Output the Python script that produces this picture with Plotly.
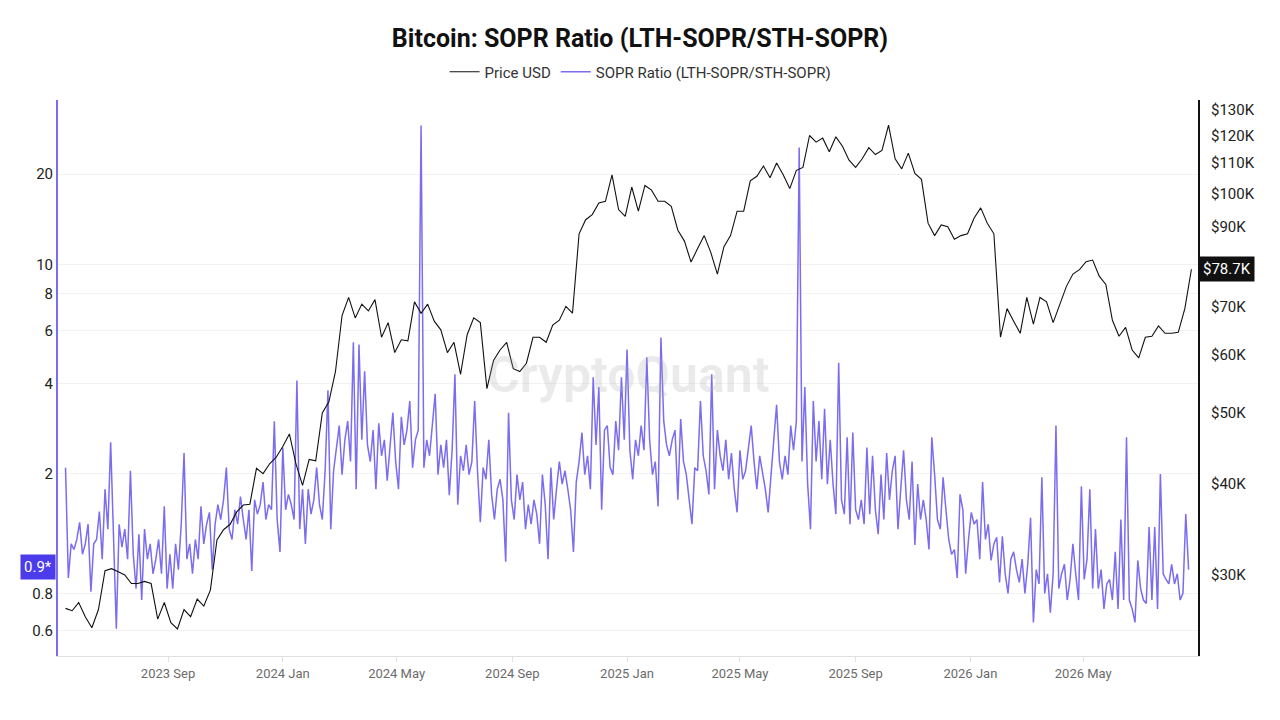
import math
import pandas as pd
import plotly.graph_objects as go

# ---------------- data ----------------
price_start = "2023-05-15"          # weekly samples
price_k = [
    27.0, 26.8, 27.5, 26.3, 25.4, 26.9, 30.4, 30.6, 30.3, 30.0,
    29.2, 29.2, 29.4, 29.2, 26.1, 27.5, 25.8, 25.3, 26.9, 26.3,
    27.8, 27.2, 28.6, 33.5, 34.6, 35.2, 36.6, 37.4, 37.5, 42.0,
    41.3, 42.6, 43.5, 45.0, 46.8, 42.6, 39.8, 43.2, 43.0, 50.0,
    51.8, 57.0, 68.0, 72.0, 67.5, 70.5, 69.0, 71.5, 63.5, 66.5,
    60.5, 63.0, 62.8, 71.0, 68.5, 70.5, 66.8, 65.0, 60.5, 62.5,
    56.5, 64.0, 67.5, 66.5, 54.0, 59.0, 61.0, 62.5, 57.5, 57.0,
    58.5, 63.5, 63.5, 62.5, 66.0, 67.0, 70.0, 68.5, 88.0, 92.0,
    93.5, 97.0, 97.5, 106.0, 95.0, 93.0, 102.0, 94.5, 102.5, 101.0,
    97.5, 97.5, 96.0, 89.0, 86.0, 80.5, 84.0, 87.5, 83.0, 77.5,
    84.5, 87.5, 94.5, 94.5, 104.0, 105.5, 109.0, 105.0, 110.0, 106.0,
    101.5, 107.5, 108.5, 120.0, 117.5, 119.0, 114.0, 119.5, 116.0, 111.0,
    108.5, 111.5, 115.5, 113.0, 114.5, 124.0, 111.5, 108.0, 113.5, 106.5,
    104.5, 91.0, 87.5, 90.5, 90.0, 86.5, 87.5, 88.0, 92.5, 95.5,
    91.0, 88.0, 63.5, 69.5, 66.8, 64.3, 72.0, 66.2, 72.0, 71.0,
    66.5, 70.5, 74.5, 77.5, 78.6, 80.6, 81.0, 77.0, 75.0, 67.0,
    63.7, 65.5, 61.0, 59.5, 63.5, 63.7, 65.8, 64.3, 64.3, 64.5,
    69.5, 78.7,
]

sopr_start = "2023-05-15"           # samples every 3 days
sopr_ratio = [
    2.1, 0.9, 1.17, 1.12, 1.21, 1.38, 1.08, 1.17, 1.36, 0.81,
    1.17, 1.21, 1.5, 1.04, 1.78, 1.31, 2.55, 1.17, 0.61, 1.36,
    1.14, 1.31, 1.04, 2.05, 1.08, 0.83, 1.26, 0.76, 1.31, 1.04,
    1.17, 0.93, 1.04, 1.21, 0.93, 1.56, 0.83, 1.08, 0.83, 1.17,
    0.96, 1.36, 2.35, 1.04, 1.17, 0.93, 1.21, 1.04, 1.56, 1.17,
    1.36, 1.49, 0.96, 1.36, 1.58, 1.41, 1.64, 2.1, 1.31, 1.21,
    1.52, 1.36, 1.68, 1.41, 1.21, 1.52, 0.95, 1.64, 1.47, 1.58,
    1.88, 1.41, 1.58, 1.52, 3.0, 1.41, 1.1, 2.45, 1.52, 1.71,
    1.58, 1.41, 4.1, 1.31, 1.78, 1.17, 1.78, 1.47, 1.64, 2.1,
    1.58, 1.41, 2.05, 3.8, 1.31, 2.05, 2.4, 2.9, 1.99, 2.6,
    3.0, 2.2, 5.5, 1.78, 5.4, 2.6, 4.4, 2.5, 2.2, 2.8,
    1.78, 2.95, 2.3, 2.6, 1.9, 2.4, 3.2, 2.2, 1.78, 3.1,
    2.5, 2.8, 3.5, 2.1, 2.6, 2.8, 29.0, 2.1, 2.6, 2.3,
    3.0, 3.7, 1.99, 2.5, 2.1, 2.6, 1.7, 2.4, 4.3, 1.58,
    2.3, 2.05, 2.5, 1.99, 2.2, 3.5, 2.05, 1.38, 2.1, 1.92,
    2.6, 1.71, 1.41, 1.78, 1.92, 1.64, 1.02, 3.2, 1.64, 1.41,
    1.99, 1.64, 1.88, 1.31, 1.58, 1.36, 1.64, 1.47, 1.17, 1.99,
    1.58, 1.04, 2.1, 1.41, 1.78, 2.2, 1.85, 2.05, 1.78, 1.52,
    1.1, 1.88, 2.2, 2.75, 1.99, 2.3, 1.78, 4.2, 2.5, 3.9,
    1.52, 2.8, 2.9, 2.1, 1.99, 3.0, 2.4, 4.2, 2.6, 5.2,
    2.4, 1.92, 2.6, 2.3, 2.9, 2.4, 4.9, 2.6, 1.99, 2.2,
    1.56, 5.7, 3.0, 2.5, 2.3, 2.6, 2.8, 1.64, 3.05, 2.2,
    1.99, 1.64, 1.36, 2.1, 2.05, 3.5, 2.3, 2.05, 1.71, 4.3,
    1.78, 2.8, 2.3, 2.05, 2.6, 1.92, 2.35, 1.78, 1.49, 2.4,
    1.92, 2.05, 2.5, 2.9, 2.2, 1.78, 2.3, 2.05, 1.78, 1.49,
    2.05, 2.6, 3.4, 2.2, 1.92, 2.3, 1.99, 2.9, 2.4, 3.0,
    24.5, 2.2, 3.9, 1.85, 1.31, 3.5, 2.2, 3.0, 1.92, 3.3,
    1.85, 2.6, 1.85, 1.47, 4.7, 1.64, 1.47, 2.65, 1.36, 2.75,
    1.52, 1.41, 1.64, 1.36, 2.45, 1.47, 2.3, 1.52, 1.26, 1.99,
    1.41, 2.35, 1.64, 2.05, 2.3, 1.31, 1.78, 2.4, 1.64, 1.41,
    2.2, 1.16, 1.85, 1.41, 1.64, 1.41, 1.12, 2.65, 1.99, 1.41,
    1.31, 1.95, 1.52, 1.21, 1.08, 1.12, 0.9, 1.71, 1.52, 0.93,
    1.21, 1.49, 1.36, 1.41, 1.04, 1.88, 1.21, 1.36, 1.03, 1.17,
    1.23, 0.87, 1.24, 0.93, 0.8, 1.04, 1.1, 0.96, 0.87, 1.04,
    0.8, 1.0, 1.43, 0.64, 0.96, 0.86, 1.95, 0.8, 0.93, 0.69,
    0.93, 2.9, 0.83, 0.93, 1.0, 0.76, 0.89, 1.17, 0.93, 0.76,
    1.82, 0.89, 1.04, 1.78, 0.83, 1.31, 0.83, 0.96, 0.71, 0.86,
    0.89, 0.76, 1.1, 0.71, 1.41, 0.76, 2.65, 0.76, 0.71, 0.64,
    1.03, 0.83, 0.76, 0.74, 1.33, 0.76, 1.33, 0.71, 2.0, 0.93,
    0.89, 0.86, 1.0, 0.86, 0.93, 0.76, 0.8, 1.47, 0.96,
]

x_tick_dates = ["2023-09-01", "2024-01-01", "2024-05-01", "2024-09-01", "2025-01-01",
                "2025-05-01", "2025-09-01", "2026-01-01", "2026-05-01"]
x_tick_labels = ["2023 Sep", "2024 Jan", "2024 May", "2024 Sep", "2025 Jan",
                 "2025 May", "2025 Sep", "2026 Jan", "2026 May"]
left_ticks = [0.6, 0.8, 2, 4, 6, 8, 10, 20]
right_ticks_k = [30, 40, 50, 60, 70, 90, 100, 110, 120, 130]

# ---------------- figure ----------------
price_dates = pd.date_range(price_start, periods=len(price_k), freq="7D")
sopr_dates = pd.date_range(sopr_start, periods=len(sopr_ratio), freq="3D")

PURPLE = "#7b6cf0"
FONT = "Roboto"

fig = go.Figure()
fig.add_trace(go.Scatter(
    x=price_dates, y=price_k, name="Price USD", yaxis="y2", mode="lines",
    line=dict(color="#111111", width=1.1), hoverinfo="skip"))
fig.add_trace(go.Scatter(
    x=sopr_dates, y=sopr_ratio, name="SOPR Ratio (LTH-SOPR/STH-SOPR)", yaxis="y",
    mode="lines", line=dict(color=PURPLE, width=1.5), hoverinfo="skip"))

last_sopr = sopr_ratio[-1]
last_price = price_k[-1]

fig.update_layout(
    width=1280, height=720,
    margin=dict(l=58, r=82, t=100, b=64, pad=0, autoexpand=False),
    paper_bgcolor="white", plot_bgcolor="white",
    font=dict(family=FONT, color="#222"),
    title=dict(text="<b>Bitcoin: SOPR Ratio (LTH-SOPR/STH-SOPR)</b>",
               x=0.5, xanchor="center", y=1 - 38 / 720, yanchor="middle",
               yref="container", font=dict(family=FONT, size=25, color="#111")),
    showlegend=True,
    legend=dict(orientation="h", x=0.511, xanchor="center", y=1.0504, yanchor="middle",
                font=dict(family=FONT, size=15, color="#333"), itemwidth=30,
                bgcolor="rgba(0,0,0,0)"),
    xaxis=dict(type="date", range=["2023-05-07", "2026-08-31"],
               tickvals=x_tick_dates, ticktext=x_tick_labels,
               showgrid=False, zeroline=False, showline=True, linecolor="#e0e0e0",
               linewidth=1, ticks="outside", ticklen=5, tickcolor="#e0e0e0",
               tickfont=dict(family=FONT, size=13, color="#6b6b6b")),
    yaxis=dict(type="log", range=[-0.3057, 1.5477],
               tickvals=left_ticks, ticktext=[f"{v:g}" for v in left_ticks],
               showgrid=True, gridcolor="#f2f2f2", zeroline=False,
               showline=True, linecolor=PURPLE, linewidth=2, ticks="",
               tickfont=dict(family=FONT, size=15, color="#222")),
    yaxis2=dict(type="log", overlaying="y", side="right", range=[1.3661, 2.1278],
                tickvals=right_ticks_k, ticktext=[f"${v}K" for v in right_ticks_k],
                showgrid=False, zeroline=False, showline=True, linecolor="#111",
                linewidth=2, ticks="", ticklabelstandoff=8,
                tickfont=dict(family=FONT, size=15, color="#222")),
    hovermode=False,
)

fig.add_annotation(text="CryptoQuant", x=0.5, y=0.505, xref="paper", yref="paper",
                   showarrow=False,
                   font=dict(family=FONT, size=50, color="rgba(170,170,175,0.25)", weight=600))

fig.add_annotation(text=f"{math.floor(last_sopr * 10) / 10}*", x=0, xref="paper",
                   xanchor="right", xshift=-2, y=math.log10(last_sopr), yref="y",
                   yshift=3, showarrow=False, bgcolor="#4b3bea", borderpad=3,
                   font=dict(family=FONT, size=15, color="white"))

fig.add_annotation(text=f"${last_price:.1f}K", x=1, xref="paper", xanchor="left",
                   xshift=1, y=math.log10(last_price), yref="y2",
                   showarrow=False, bgcolor="#111111", borderpad=3,
                   font=dict(family=FONT, size=15, color="white"))

fig.write_html("out.html", config={"displayModeBar": False},
               post_script="document.body.style.margin='0';document.body.style.overflow='hidden';")
